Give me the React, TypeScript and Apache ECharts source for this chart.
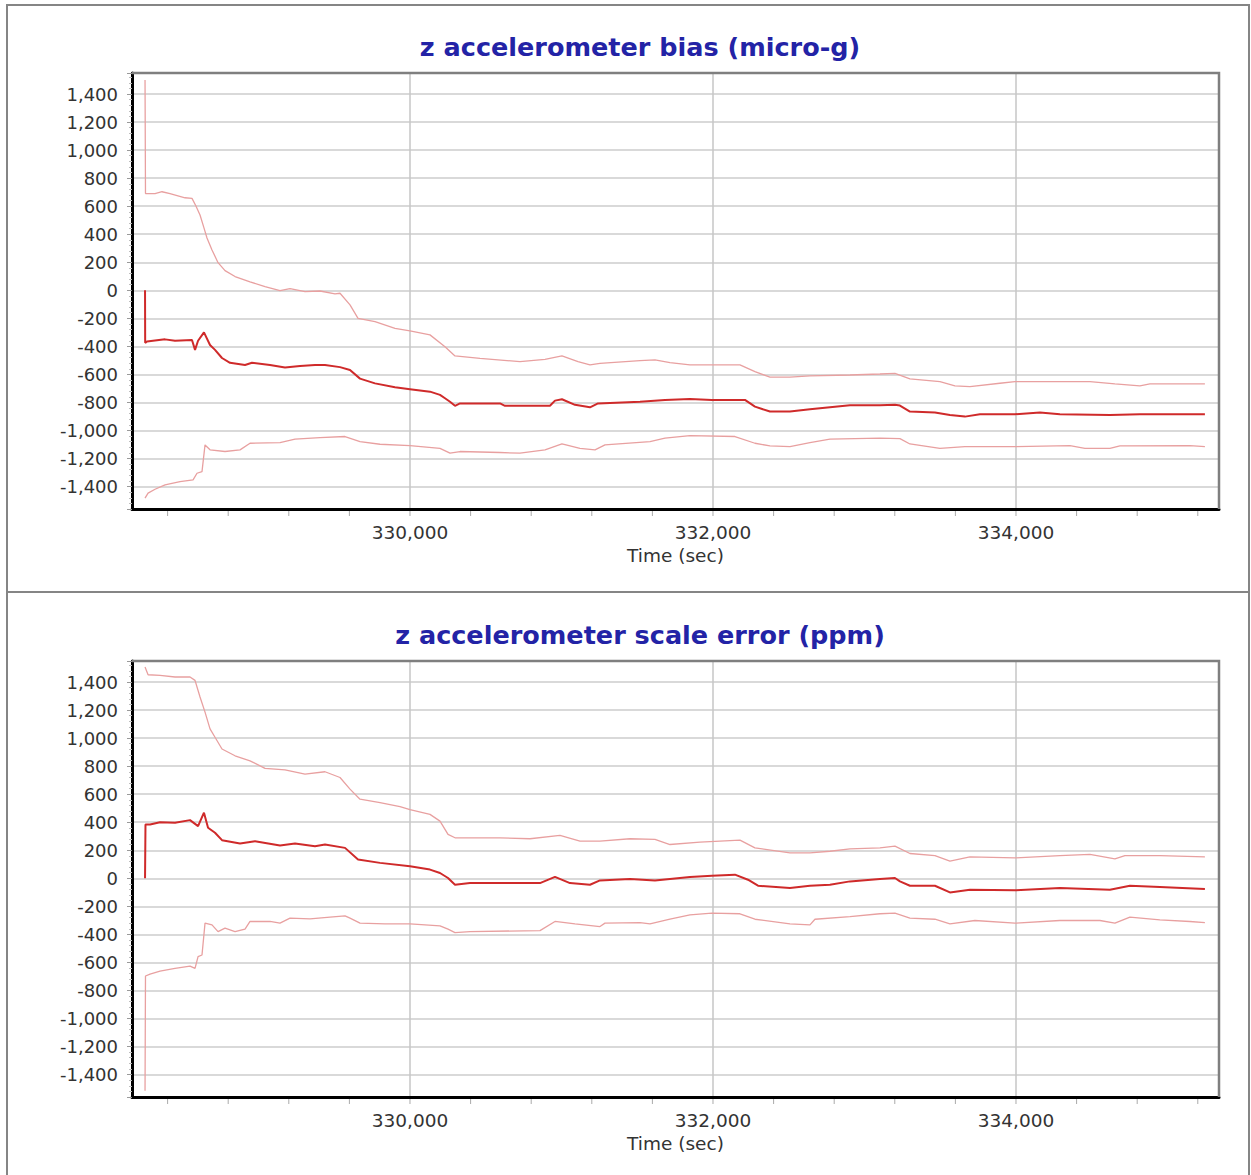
import React, { useEffect, useRef } from "react";
import * as echarts from "echarts";

// ---------- data (time in sec, value) ----------
const BIAS_MEAN: [number, number][] = [
  [328251, 0], [328252, -375], [328264, -365], [328383, -350], [328449, -360], [328561, -355],
  [328581, -425], [328601, -360], [328640, -300], [328680, -390], [328713, -425], [328759, -483],
  [328812, -517], [328911, -533], [328957, -517], [329076, -533], [329175, -550], [329274, -540],
  [329373, -533], [329439, -533], [329538, -548], [329604, -568], [329670, -630], [329769, -664],
  [329901, -692], [330000, -705], [330132, -723], [330198, -746], [330231, -770], [330264, -795],
  [330297, -824], [330330, -807], [330594, -807], [330627, -824], [330924, -824], [330957, -787],
  [331003, -777], [331089, -817], [331188, -835], [331241, -807], [331518, -795], [331683, -782],
  [331848, -775], [331993, -782], [332211, -782], [332277, -830], [332376, -865], [332508, -865],
  [332640, -848], [332772, -834], [332904, -820], [333102, -820], [333201, -817], [333234, -822],
  [333300, -865], [333465, -872], [333564, -889], [333663, -901], [333762, -884], [333993, -884],
  [334158, -872], [334290, -884], [334620, -889], [334818, -884], [335247, -884],
];

const BIAS_UPPER: [number, number][] = [
  [328251, 1500], [328254, 690], [328317, 690], [328363, 703], [328416, 690], [328515, 660],
  [328561, 656], [328587, 601], [328614, 537], [328640, 445], [328660, 373], [328693, 288],
  [328733, 197], [328779, 140], [328845, 98], [328944, 60], [329043, 26], [329142, -2],
  [329208, 12], [329307, -10], [329406, -5], [329505, -26], [329538, -21], [329604, -104],
  [329657, -200], [329769, -223], [329901, -271], [330000, -290], [330132, -318], [330231, -402],
  [330297, -468], [330462, -485], [330726, -509], [330891, -492], [331003, -468], [331109, -509],
  [331188, -532], [331254, -521], [331518, -501], [331617, -497], [331716, -516], [331848, -532],
  [332178, -532], [332277, -580], [332376, -620], [332508, -620], [332640, -611], [332904, -604],
  [333102, -597], [333201, -592], [333300, -632], [333498, -651], [333597, -682], [333696, -687],
  [333894, -663], [333993, -651], [334488, -651], [334653, -668], [334818, -682], [334884, -668],
  [335247, -668],
];

const BIAS_LOWER: [number, number][] = [
  [328251, -1483], [328271, -1447], [328317, -1419], [328383, -1388], [328482, -1364], [328568, -1352],
  [328594, -1305], [328627, -1293], [328647, -1103], [328680, -1138], [328779, -1150], [328878, -1138],
  [328944, -1091], [329142, -1086], [329241, -1062], [329406, -1051], [329571, -1043], [329670, -1079],
  [329802, -1098], [330000, -1108], [330198, -1127], [330264, -1162], [330330, -1150], [330594, -1157],
  [330726, -1162], [330891, -1138], [331003, -1096], [331122, -1127], [331221, -1138], [331287, -1103],
  [331584, -1079], [331683, -1055], [331848, -1036], [332145, -1043], [332277, -1091], [332376, -1110],
  [332508, -1115], [332640, -1086], [332772, -1062], [333102, -1055], [333234, -1058], [333300, -1096],
  [333498, -1127], [333663, -1115], [333993, -1115], [334356, -1108], [334455, -1127], [334620, -1127],
  [334686, -1110], [335148, -1108], [335247, -1115],
];

const SCALE_MEAN: [number, number][] = [
  [328251, 0], [328254, 384], [328284, 384], [328350, 400], [328449, 396], [328548, 415],
  [328601, 372], [328640, 468], [328667, 361], [328713, 325], [328759, 272], [328878, 248],
  [328977, 265], [329142, 234], [329241, 248], [329373, 229], [329439, 241], [329571, 217],
  [329657, 134], [329802, 110], [330000, 86], [330132, 62], [330198, 38], [330251, 2],
  [330297, -46], [330396, -34], [330858, -34], [330957, 10], [331056, -34], [331188, -46],
  [331254, -15], [331452, -5], [331617, -15], [331848, 10], [331993, 19], [332145, 26],
  [332231, -10], [332297, -53], [332508, -69], [332640, -53], [332772, -46], [332904, -22],
  [333102, -5], [333201, 2], [333234, -22], [333300, -53], [333465, -53], [333564, -101],
  [333696, -81], [333993, -86], [334290, -69], [334620, -81], [334752, -53], [334950, -62],
  [335247, -76],
];

const SCALE_UPPER: [number, number][] = [
  [328251, 1507], [328271, 1452], [328350, 1447], [328449, 1436], [328548, 1436], [328581, 1412],
  [328614, 1293], [328647, 1185], [328680, 1066], [328713, 1006], [328759, 922], [328845, 874],
  [328944, 838], [329043, 784], [329175, 774], [329307, 743], [329439, 760], [329538, 719],
  [329604, 636], [329670, 564], [329802, 540], [329934, 511], [330000, 490], [330132, 456],
  [330198, 408], [330251, 313], [330297, 289], [330594, 289], [330792, 282], [330990, 306],
  [331122, 265], [331254, 265], [331452, 282], [331617, 277], [331716, 241], [331914, 258],
  [332178, 272], [332277, 217], [332508, 181], [332640, 181], [332772, 193], [332904, 210],
  [333102, 217], [333201, 229], [333300, 177], [333465, 162], [333564, 122], [333696, 153],
  [333993, 146], [334290, 162], [334488, 170], [334653, 138], [334719, 162], [334950, 162],
  [335247, 153],
];

const SCALE_LOWER: [number, number][] = [
  [328251, -1515], [328254, -697], [328284, -683], [328350, -662], [328449, -643], [328548, -626],
  [328581, -643], [328601, -559], [328627, -547], [328647, -320], [328693, -332], [328733, -380],
  [328779, -356], [328845, -380], [328911, -363], [328944, -308], [329076, -308], [329142, -320],
  [329208, -284], [329340, -289], [329472, -277], [329571, -268], [329604, -284], [329670, -320],
  [329835, -325], [330000, -325], [330198, -339], [330251, -363], [330297, -387], [330396, -380],
  [330858, -373], [330957, -308], [331089, -325], [331254, -344], [331287, -320], [331518, -316],
  [331584, -325], [331716, -292], [331848, -261], [331993, -248], [332178, -253], [332277, -292],
  [332508, -325], [332640, -332], [332673, -292], [332904, -273], [333102, -253], [333201, -248],
  [333300, -284], [333465, -292], [333564, -325], [333729, -301], [333993, -320], [334290, -301],
  [334554, -301], [334653, -320], [334752, -277], [334950, -296], [335148, -308], [335247, -316],
];

const X_MINOR_TICKS = [
  328400, 328800, 329200, 329600, 330000, 330400, 330800, 331200, 331600,
  332000, 332400, 332800, 333200, 333600, 334000, 334400, 334800, 335200,
];

const TITLES = ["z accelerometer bias (micro-g)", "z accelerometer scale error (ppm)"];
const X_NAME = "Time (sec)";

const X_MIN = 328165;
const X_MAX = 335340;
const Y_MIN = -1560;
const Y_MAX = 1550;

// ---------- layout ----------
const W = 1251;
const H = 1175;
const PLOT_LEFT = 132;
const PLOT_RIGHT = 1219;
const PLOT_TOPS = [73, 661];
const PLOT_H = 436;
const FONT = "DejaVu Sans";

const fmt = (v: number) => Math.round(v).toLocaleString("en-US");

function buildOption() {
  const grids = PLOT_TOPS.map((top) => ({
    left: PLOT_LEFT,
    top,
    width: PLOT_RIGHT - PLOT_LEFT,
    height: PLOT_H,
    show: false,
  }));

  const xAxes = PLOT_TOPS.map((_, i) => ({
    type: "value",
    gridIndex: i,
    min: X_MIN,
    max: X_MAX,
    splitNumber: 4,
    name: X_NAME,
    nameLocation: "middle",
    nameGap: 37,
    nameTextStyle: { fontFamily: FONT, fontSize: 18.5, color: "#333" },
    axisLine: { show: true, onZero: false, lineStyle: { color: "#000", width: 3 } },
    axisTick: { show: false },
    axisLabel: {
      formatter: fmt,
      fontFamily: FONT,
      fontSize: 18.5,
      color: "#333",
      margin: 14,
      showMinLabel: false,
      showMaxLabel: false,
    },
    splitLine: { show: true, lineStyle: { color: "#c6c6c6", width: 1.5 } },
  }));

  const yAxes = PLOT_TOPS.map((_, i) => ({
    type: "value",
    gridIndex: i,
    min: Y_MIN,
    max: Y_MAX,
    splitNumber: 15,
    axisLine: { show: true, onZero: false, lineStyle: { color: "#000", width: 3 } },
    axisTick: { show: true, length: 5, lineStyle: { color: "#9a9a9a" } },
    minorTick: { show: true, splitNumber: 5, length: 3, lineStyle: { color: "#bdbdbd" } },
    axisLabel: {
      formatter: fmt,
      fontFamily: FONT,
      fontSize: 18,
      color: "#333",
      margin: 14,
      showMinLabel: false,
      showMaxLabel: false,
    },
    splitLine: { show: true, lineStyle: { color: "#d9d9d9", width: 2 } },
  }));

  const groups = [
    [BIAS_UPPER, BIAS_LOWER, BIAS_MEAN],
    [SCALE_UPPER, SCALE_LOWER, SCALE_MEAN],
  ];

  const series: any[] = [];
  groups.forEach((g, i) => {
    ["upper", "lower", "mean"].forEach((kind, k) => {
      const isMean = kind === "mean";
      series.push({
        type: "line",
        name: `${i}-${kind}`,
        xAxisIndex: i,
        yAxisIndex: i,
        data: g[k],
        symbol: "none",
        showSymbol: false,
        silent: true,
        z: isMean ? 5 : 3,
        lineStyle: isMean
          ? { color: "#cf2a2a", width: 2 }
          : { color: "#e8a0a0", width: 1.3 },
      });
    });
    series.push({
      type: "custom",
      xAxisIndex: i,
      yAxisIndex: i,
      silent: true,
      clip: false,
      data: X_MINOR_TICKS.map((t) => [t, Y_MIN]),
      renderItem: (_p: any, api: any) => {
        const pt = api.coord([api.value(0), api.value(1)]);
        return {
          type: "line",
          shape: { x1: pt[0], y1: pt[1] + 2, x2: pt[0], y2: pt[1] + 7 },
          style: { stroke: "#aaaaaa", lineWidth: 1 },
        };
      },
    });
  });

  const graphic: any[] = [
    {
      type: "rect",
      shape: { x: 7, y: 5, width: 1242, height: 587 },
      style: { fill: "none", stroke: "#858585", lineWidth: 2 },
      silent: true,
      z: 50,
    },
    {
      type: "rect",
      shape: { x: 7, y: 592, width: 1242, height: 620 },
      style: { fill: "none", stroke: "#858585", lineWidth: 2 },
      silent: true,
      z: 50,
    },
  ];
  PLOT_TOPS.forEach((top, i) => {
    graphic.push({
      type: "polyline",
      shape: {
        points: [
          [PLOT_LEFT, top],
          [PLOT_RIGHT, top],
          [PLOT_RIGHT, top + PLOT_H],
        ],
      },
      style: { fill: "none", stroke: "#7f7f7f", lineWidth: 2.5 },
      silent: true,
      z: 50,
    });
    graphic.push({
      type: "text",
      x: 640,
      y: top - 26,
      silent: true,
      z: 50,
      style: {
        text: TITLES[i],
        fontFamily: FONT,
        fontWeight: "bold",
        fontSize: 25.5,
        fill: "#2323a6",
        align: "center",
        verticalAlign: "middle",
      },
    });
  });

  return {
    animation: false,
    backgroundColor: "#ffffff",
    grid: grids,
    xAxis: xAxes,
    yAxis: yAxes,
    series,
    graphic,
  };
}

export default function App() {
  const ref = useRef<HTMLDivElement>(null);
  useEffect(() => {
    if (!ref.current) return;
    const chart = echarts.init(ref.current, null, { renderer: "svg" });
    chart.setOption(buildOption() as any);
    return () => chart.dispose();
  }, []);
  return (
    <div
      ref={ref}
      style={{ position: "fixed", left: 0, top: 0, width: W, height: H, background: "#fff" }}
    />
  );
}
